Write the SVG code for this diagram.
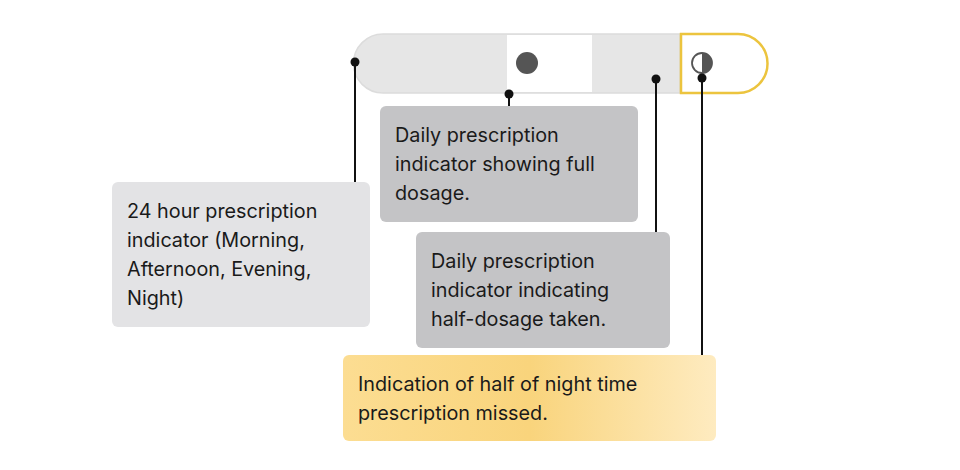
<svg xmlns="http://www.w3.org/2000/svg" width="960" height="470" viewBox="0 0 960 470">
<defs>
<linearGradient id="yg" x1="0" y1="0" x2="1" y2="0">
<stop offset="0" stop-color="#fcdd92"/>
<stop offset="0.5" stop-color="#f9d47c"/>
<stop offset="1" stop-color="#feebc0"/>
</linearGradient>
<style>
text{font-family:Inter,"Liberation Sans",sans-serif;font-size:19.8px;fill:#1a1a1a}
.ln{stroke:#111;stroke-width:2;fill:none}
.dot{fill:#111}
</style>
</defs>
<rect width="960" height="470" fill="#fff"/>
<g id="pill">
<path d="M383 34 H680 V93 H383 A29.5 29.5 0 0 1 383 34 Z" fill="#e6e6e6" stroke="#dcdcdc" stroke-width="1.5"/>
<rect x="507" y="35" width="85" height="57" fill="#fff"/>
<circle cx="527" cy="63" r="11" fill="#555"/>
<path d="M681 34 H738 A29.5 29.5 0 0 1 738 93 H681 Z" fill="#fff" stroke="#ecc43e" stroke-width="2.5"/>
<circle cx="702" cy="63" r="10" fill="#fff" stroke="#555" stroke-width="1.8"/>
<path d="M702 53 A10 10 0 0 1 702 73 Z" fill="#555"/>
</g>
<g id="connectors">
<line class="ln" x1="355" y1="62" x2="355" y2="182"/><circle class="dot" cx="355" cy="62" r="4.5"/>
<line class="ln" x1="509" y1="96" x2="509" y2="106"/><circle class="dot" cx="509" cy="94" r="4.5"/>
<line class="ln" x1="656" y1="79" x2="656" y2="232"/><circle class="dot" cx="656" cy="79" r="4.5"/>
<line class="ln" x1="702" y1="78" x2="702" y2="355"/><circle class="dot" cx="702" cy="78" r="4.5"/>
</g>
<g id="box-24h">
<rect x="112" y="182" width="258" height="145" rx="6" fill="#e3e3e5"/>
<text x="127" y="218">24 hour prescription</text>
<text x="127" y="247">indicator (Morning,</text>
<text x="127" y="276">Afternoon, Evening,</text>
<text x="127" y="305">Night)</text>
</g>
<g id="box-full">
<rect x="380" y="106" width="258" height="116" rx="6" fill="#c4c4c6"/>
<text x="395" y="142">Daily prescription</text>
<text x="395" y="171">indicator showing full</text>
<text x="395" y="200">dosage.</text>
</g>
<g id="box-half">
<rect x="416" y="232" width="254" height="116" rx="6" fill="#c4c4c6"/>
<text x="431" y="268">Daily prescription</text>
<text x="431" y="297">indicator indicating</text>
<text x="431" y="326">half-dosage taken.</text>
</g>
<g id="box-missed">
<rect x="343" y="355" width="373" height="86" rx="6" fill="url(#yg)"/>
<text x="358" y="391">Indication of half of night time</text>
<text x="358" y="420">prescription missed.</text>
</g>
</svg>
